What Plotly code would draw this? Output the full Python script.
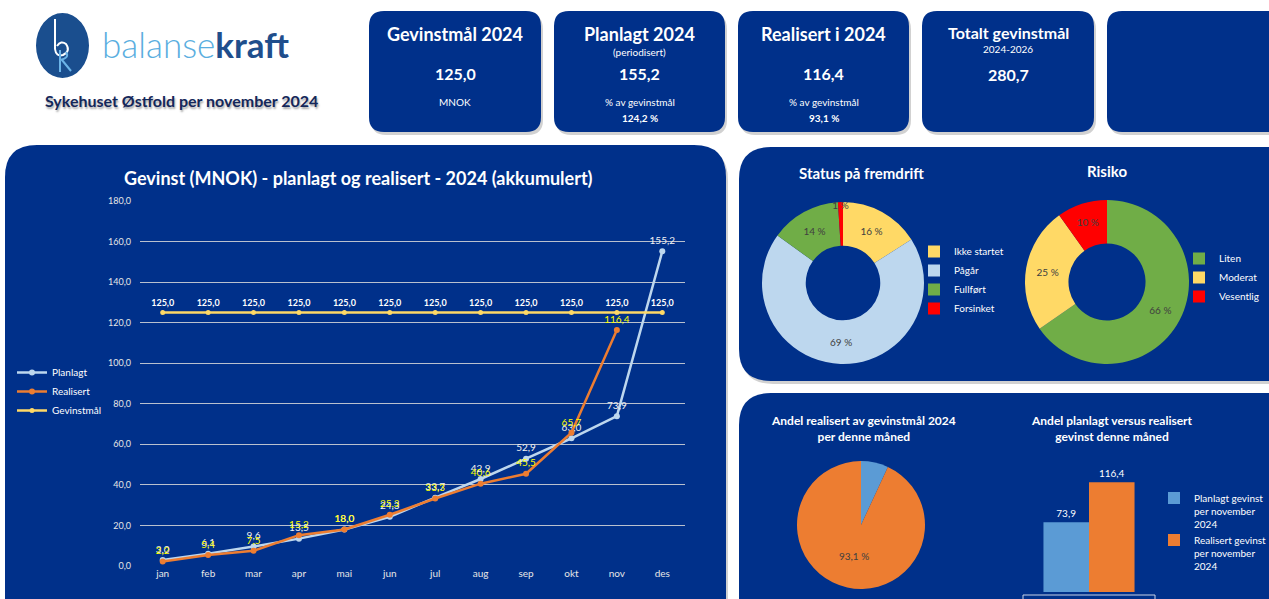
import plotly.graph_objects as go

W, H = 1269, 599
BLUE = "#00308A"

# ---------------- data ----------------
months = ["jan", "feb", "mar", "apr", "mai", "jun", "jul", "aug", "sep", "okt", "nov", "des"]
planlagt = [3.0, 6.1, 9.6, 13.5, 18.0, 24.3, 33.7, 42.9, 52.9, 63.0, 73.9, 155.2]
realisert = [2.2, 5.4, 7.5, 15.2, 18.0, 25.3, 33.3, 40.6, 45.5, 65.7, 116.4]
gevinstmal = [125.0] * 12

status_labels = ["Ikke startet", "Pågår", "Fullført", "Forsinket"]
status_values = [16, 69, 14, 1]
risiko_labels = ["Liten", "Moderat", "Vesentlig"]
risiko_values = [66, 25, 10]
andel_labels = ["Gjenstår", "Realisert"]
andel_values = [6.9, 93.1]
bar_names = ["Planlagt gevinst<br>per november<br>2024", "Realisert gevinst<br>per november<br>2024"]
bar_values = [73.9, 116.4]

kpi_titles = ["Gevinstmål 2024", "Planlagt 2024", "Realisert i 2024", "Totalt gevinstmål"]
kpi_sub = ["", "(periodisert)", "", "2024-2026"]
kpi_values = ["125,0", "155,2", "116,4", "280,7"]
kpi_note = ["MNOK", "% av gevinstmål", "% av gevinstmål", ""]
kpi_pct = ["", "124,2 %", "93,1 %", ""]


def px(x):
    return x / W


def py(y):
    return 1 - y / H


def rrect(x0, y0, x1, y1, r):
    pts = [
        f"M {px(x0 + r)},{py(y0)}",
        f"L {px(x1 - r)},{py(y0)}",
        f"Q {px(x1)},{py(y0)} {px(x1)},{py(y0 + r)}",
        f"L {px(x1)},{py(y1 - r)}",
        f"Q {px(x1)},{py(y1)} {px(x1 - r)},{py(y1)}",
        f"L {px(x0 + r)},{py(y1)}",
        f"Q {px(x0)},{py(y1)} {px(x0)},{py(y1 - r)}",
        f"L {px(x0)},{py(y0 + r)}",
        f"Q {px(x0)},{py(y0)} {px(x0 + r)},{py(y0)}",
        "Z",
    ]
    return " ".join(pts)


shapes = []
annotations = []


def box(x0, y0, x1, y1, r):
    shapes.append(dict(type="path", path=rrect(x0 + 2, y0 + 3, x1 + 2, y1 + 3, r), xref="paper", yref="paper",
                       fillcolor="rgba(0,0,0,0.18)", line=dict(width=0), layer="below"))
    shapes.append(dict(type="path", path=rrect(x0, y0, x1, y1, r), xref="paper", yref="paper",
                       fillcolor=BLUE, line=dict(width=0), layer="below"))


def txt(x, y, s, size, bold=False, color="white", xanchor="center", **font_extra):
    annotations.append(dict(x=px(x), y=py(y), xref="paper", yref="paper", text=(f"<b>{s}</b>" if bold else s),
                            showarrow=False, xanchor=xanchor, yanchor="middle",
                            font=dict(size=size, color=color, **font_extra)))


# boxes
kpi_x = [(369, 541), (554, 725), (738, 909), (922, 1094), (1107, 1290)]
for (a, b) in kpi_x:
    box(a, 11, b, 132, 15)
box(5, 145, 726, 640, 32)
box(739, 147, 1300, 381, 32)
box(739, 393, 1300, 640, 32)

# KPI texts
for i in range(4):
    cx = (kpi_x[i][0] + kpi_x[i][1]) / 2
    if i == 3:
        txt(cx, 32, kpi_titles[i], 16, True)
        txt(cx, 49, kpi_sub[i], 10)
        txt(cx, 75, kpi_values[i], 16, True)
    else:
        txt(cx, 34, kpi_titles[i], 18, True)
        if kpi_sub[i]:
            txt(cx, 52, kpi_sub[i], 10)
        txt(cx, 74, kpi_values[i], 16, True)
        txt(cx, 102, kpi_note[i], 10)
        if kpi_pct[i]:
            txt(cx, 118, kpi_pct[i], 10, True)

# logo
shapes.append(dict(type="circle", xref="paper", yref="paper", x0=px(36), x1=px(89), y0=py(78), y1=py(13),
                   fillcolor="#1A4E8E", line=dict(width=0)))
shapes.append(dict(type="path", xref="paper", yref="paper",
                   path=f"M {px(55)},{py(19)} L {px(55)},{py(49)} Q {px(56)},{py(57)} {px(63)},{py(55)} Q {px(71)},{py(51)} {px(66)},{py(44)} Q {px(61)},{py(40)} {px(57)},{py(46)}",
                   line=dict(color="white", width=2)))
shapes.append(dict(type="path", xref="paper", yref="paper",
                   path=f"M {px(60)},{py(50)} L {px(60)},{py(72)} M {px(60)},{py(60)} Q {px(70)},{py(58)} {px(66)},{py(52)} M {px(62)},{py(60)} L {px(71)},{py(71)}",
                   line=dict(color="#6CB4E8", width=2)))
annotations.append(dict(x=px(100), y=py(44), xref="paper", yref="paper", showarrow=False, xanchor="left",
                        yanchor="middle",
                        text="<span style='color:#5AAEE0'>balanse</span><span style='color:#1F4E8C'><b>kraft</b></span>",
                        font=dict(size=35, family="Lato", weight=300)))
txt(181, 100, "Sykehuset Østfold per november 2024", 16, True, color="#14275A",
    shadow="1px 2px 2px rgba(0,0,0,0.35)")

# titles inside boxes
txt(358, 178, "Gevinst (MNOK) - planlagt og realisert - 2024 (akkumulert)", 18, True)
txt(861, 173, "Status på fremdrift", 15, True)
txt(1107, 171, "Risiko", 15, True)
txt(863, 428, "Andel realisert av gevinstmål 2024<br>per denne måned", 12, True)
txt(1112, 428, "Andel planlagt versus realisert<br>gevinst denne måned", 12, True)

# bar base outline
shapes.append(dict(type="rect", xref="paper", yref="paper", x0=px(1023), x1=px(1155), y0=py(610), y1=py(595),
                   line=dict(color="#C9D3E6", width=1), fillcolor="rgba(0,0,0,0)"))

fig = go.Figure()

# line chart
fig.add_trace(go.Scatter(x=months, y=planlagt, name="Planlagt", mode="lines+markers+text",
                         line=dict(color="#BDD7EE", width=2.5), marker=dict(size=6, color="#BDD7EE"),
                         texttemplate="%{y:.1f}", textposition="top center",
                         textfont=dict(color="#F2F2F2", size=10), legend="legend"))
fig.add_trace(go.Scatter(x=months[:len(realisert)], y=realisert, name="Realisert", mode="lines+markers+text",
                         line=dict(color="#ED7D31", width=2.5), marker=dict(size=6, color="#ED7D31"),
                         texttemplate="%{y:.1f}", textposition="top center",
                         textfont=dict(color="#FFFF00", size=10), legend="legend"))
fig.add_trace(go.Scatter(x=months, y=gevinstmal, name="Gevinstmål", mode="lines+markers+text",
                         line=dict(color="#FFD966", width=2.5), marker=dict(size=5, color="#FFD966"),
                         texttemplate="<b>%{y:.1f}</b>", textposition="top center",
                         textfont=dict(color="white", size=9), legend="legend"))

# donuts
fig.add_trace(go.Pie(labels=status_labels, values=status_values, hole=0.46, sort=False, direction="clockwise",
                     rotation=0, text=[f"{v} %" for v in status_values], textinfo="text",
                     textposition="inside", insidetextorientation="horizontal",
                     textfont=dict(color="#404040", size=10),
                     marker=dict(colors=["#FFD966", "#BDD7EE", "#70AD47", "#FF0000"], line=dict(width=0)),
                     domain=dict(x=[px(843 - 81), px(843 + 81)], y=[py(283 + 81), py(283 - 81)]),
                     legend="legend2"))
fig.add_trace(go.Pie(labels=risiko_labels, values=risiko_values, hole=0.47, sort=False, direction="clockwise",
                     rotation=0, text=[f"{v} %" for v in risiko_values], textinfo="text",
                     textposition="inside", insidetextorientation="horizontal",
                     textfont=dict(color="#404040", size=10),
                     marker=dict(colors=["#70AD47", "#FFD966", "#FF0000"], line=dict(width=0)),
                     domain=dict(x=[px(1107 - 82), px(1107 + 82)], y=[py(282 + 82), py(282 - 82)]),
                     legend="legend3"))
fig.add_trace(go.Pie(labels=andel_labels, values=andel_values, sort=False, direction="clockwise",
                     rotation=0, text=["", f"{andel_values[1]:.1f} %".replace(".", ",")], textinfo="text",
                     textposition="inside", insidetextorientation="horizontal",
                     textfont=dict(color="#404040", size=10), showlegend=False,
                     marker=dict(colors=["#5B9BD5", "#ED7D31"], line=dict(width=0)),
                     domain=dict(x=[px(861 - 64), px(861 + 64)], y=[py(525 + 64), py(525 - 64)])))

# bars
bar_colors = ["#5B9BD5", "#ED7D31"]
for n, v, c in zip(bar_names, bar_values, bar_colors):
    fig.add_trace(go.Bar(x=["nov"], y=[v], name=n, marker=dict(color=c, line=dict(width=0)),
                         texttemplate="%{y:.1f}", textposition="outside",
                         textfont=dict(color="white", size=10), cliponaxis=False,
                         xaxis="x2", yaxis="y2", legend="legend4"))

leg_common = dict(bgcolor="rgba(0,0,0,0)", font=dict(color="white", size=10), xanchor="left", yanchor="top",
                  tracegroupgap=0, itemclick=False, borderwidth=0)

fig.update_layout(
    width=W, height=H, margin=dict(l=0, r=0, t=0, b=0, pad=0, autoexpand=False),
    paper_bgcolor="white", plot_bgcolor="rgba(0,0,0,0)",
    font=dict(family="Lato", color="white"),
    separators=", ",
    shapes=shapes, annotations=annotations,
    showlegend=True,
    uniformtext=dict(minsize=10, mode="show"),
    xaxis=dict(domain=[px(140), px(685)], type="category", range=[-0.5, 11.5], showgrid=False, zeroline=False,
               showline=False, tickfont=dict(size=10, color="#E6E6E6"), ticks="", automargin=False),
    yaxis=dict(domain=[py(566), py(201)], range=[0, 180], dtick=20, tickformat=".1f",
               gridcolor="rgba(217,217,217,0.85)", gridwidth=1, zeroline=False,
               tickfont=dict(size=9, color="#E6E6E6"), ticks="", ticklabelstandoff=8, automargin=False),
    xaxis2=dict(domain=[px(1023), px(1155)], type="category", showticklabels=False, showgrid=False,
                zeroline=False, showline=False, anchor="y2", automargin=False),
    yaxis2=dict(domain=[py(592), py(460)], range=[0, 140], visible=False, anchor="x2", automargin=False),
    bargap=0.31, bargroupgap=0, barmode="group",
    legend=dict(x=px(12), y=py(358), **leg_common),
    legend2=dict(x=px(914), y=py(237), **leg_common),
    legend3=dict(x=px(1179), y=py(244), **leg_common),
    legend4=dict(x=px(1154), y=py(485), valign="top", **leg_common),
)

fig.write_html("out.html", config={"displayModeBar": False},
               post_script="document.body.style.margin='0';document.body.style.overflow='hidden';")
